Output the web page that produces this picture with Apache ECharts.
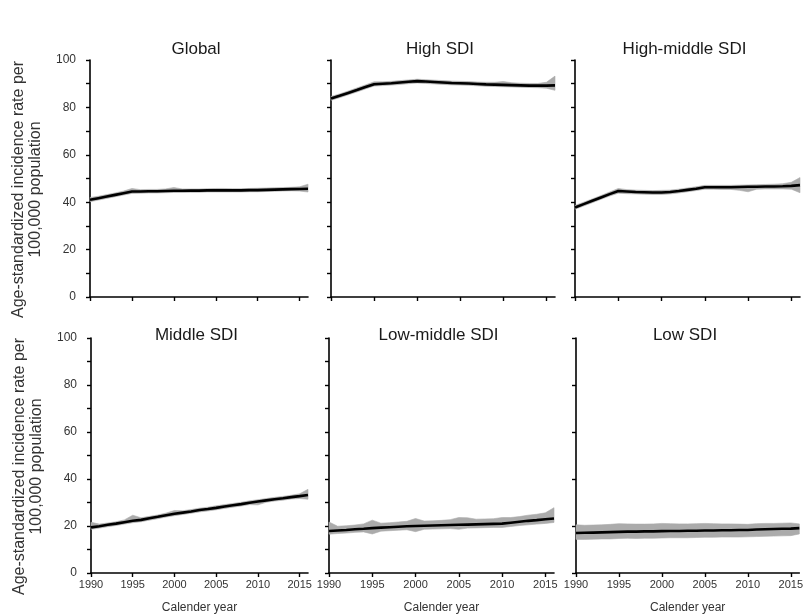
<!DOCTYPE html>
<html>
<head>
<meta charset="utf-8">
<script src="https://cdn.jsdelivr.net/npm/echarts@6/dist/echarts.min.js"></script>
<style>
  html, body { margin: 0; padding: 0; background: #fff; }
  #chart { width: 806px; height: 615px; }
</style>
</head>
<body>
<div id="chart"></div>
<script>
// Calendar years shown on every panel
const years = [1990, 1991, 1992, 1993, 1994, 1995, 1996, 1997, 1998, 1999,
               2000, 2001, 2002, 2003, 2004, 2005, 2006, 2007, 2008, 2009,
               2010, 2011, 2012, 2013, 2014, 2015, 2016];
const xTicks = [1990, 1995, 2000, 2005, 2010, 2015];

// Panel titles
const regions = ['Global', 'High SDI', 'High-middle SDI', 'Middle SDI', 'Low-middle SDI', 'Low SDI'];

// Age-standardized incidence rate (mean) and 95% UI bounds per region
const globalMean  = [41.0, 41.7, 42.4, 43.1, 43.8, 44.5, 44.5, 44.6, 44.6, 44.7, 44.8, 44.8, 44.9, 44.9, 45.0, 45.0, 45.0, 45.0, 45.0, 45.1, 45.1, 45.2, 45.3, 45.4, 45.5, 45.6, 45.7];
const globalUpper = [42.0, 42.5, 43.2, 43.9, 44.7, 45.8, 45.3, 45.4, 45.4, 45.6, 46.2, 45.6, 45.6, 45.6, 45.7, 45.8, 45.8, 45.7, 45.7, 45.8, 45.9, 46.0, 46.1, 46.2, 46.3, 46.5, 47.6];
const globalLower = [40.2, 40.9, 41.6, 42.3, 43.0, 43.7, 43.8, 43.9, 43.9, 44.0, 44.1, 44.1, 44.2, 44.2, 44.3, 44.3, 44.3, 44.3, 44.3, 44.4, 44.4, 44.5, 44.6, 44.7, 44.8, 44.7, 44.3];

const highMean  = [83.8, 84.9, 86.1, 87.3, 88.6, 89.8, 90.0, 90.2, 90.5, 90.8, 91.1, 90.9, 90.7, 90.5, 90.3, 90.2, 90.1, 89.9, 89.7, 89.6, 89.5, 89.4, 89.3, 89.2, 89.2, 89.2, 89.3];
const highUpper = [84.6, 85.7, 86.9, 88.2, 89.5, 90.8, 90.8, 91.0, 91.3, 91.6, 91.9, 91.7, 91.5, 91.3, 91.1, 91.0, 90.9, 90.7, 90.6, 90.6, 90.9, 90.4, 90.2, 90.1, 90.1, 90.6, 93.2];
const highLower = [83.0, 84.1, 85.3, 86.5, 87.8, 89.0, 89.2, 89.4, 89.7, 90.0, 90.3, 90.1, 89.9, 89.7, 89.5, 89.4, 89.3, 89.1, 88.9, 88.8, 88.7, 88.6, 88.5, 88.4, 88.3, 88.1, 87.2];

const highMidMean  = [37.8, 39.2, 40.6, 42.0, 43.4, 44.7, 44.5, 44.3, 44.2, 44.1, 44.1, 44.3, 44.7, 45.2, 45.7, 46.3, 46.3, 46.3, 46.3, 46.4, 46.5, 46.5, 46.6, 46.6, 46.7, 46.9, 47.2];
const highMidUpper = [38.6, 40.0, 41.4, 42.8, 44.3, 45.8, 45.3, 45.1, 45.0, 44.9, 45.0, 45.1, 45.5, 46.0, 46.5, 47.1, 47.1, 47.1, 47.1, 47.2, 47.3, 47.4, 47.5, 47.6, 47.8, 48.4, 50.4];
const highMidLower = [37.0, 38.4, 39.8, 41.2, 42.6, 43.8, 43.6, 43.5, 43.4, 43.3, 43.3, 43.5, 43.9, 44.4, 44.9, 45.5, 45.5, 45.4, 45.4, 45.0, 44.4, 45.5, 45.6, 45.6, 45.6, 45.5, 44.0];

const middleMean  = [19.4, 19.9, 20.5, 21.0, 21.6, 22.2, 22.6, 23.3, 23.9, 24.6, 25.2, 25.7, 26.2, 26.8, 27.2, 27.7, 28.3, 28.8, 29.3, 29.9, 30.4, 30.9, 31.4, 31.8, 32.3, 32.7, 33.2];
const middleUpper = [21.6, 20.8, 21.3, 21.8, 22.6, 24.6, 23.5, 24.1, 24.7, 25.5, 26.6, 26.5, 27.0, 27.6, 28.0, 28.6, 29.1, 29.6, 30.1, 30.7, 31.2, 31.7, 32.2, 32.6, 33.1, 33.7, 35.6];
const middleLower = [18.6, 19.1, 19.7, 20.2, 20.8, 21.4, 21.8, 22.5, 23.1, 23.8, 24.4, 24.9, 25.4, 26.0, 26.4, 26.9, 27.5, 28.0, 28.5, 29.1, 29.0, 30.1, 30.6, 31.0, 31.5, 31.7, 31.4];

const lowMidMean  = [17.9, 18.1, 18.3, 18.6, 18.8, 19.1, 19.3, 19.5, 19.7, 19.9, 20.0, 20.1, 20.2, 20.3, 20.4, 20.5, 20.6, 20.7, 20.8, 20.9, 21.0, 21.4, 21.8, 22.2, 22.5, 22.9, 23.2];
const lowMidUpper = [21.7, 19.9, 20.1, 20.4, 20.9, 22.5, 21.2, 21.4, 21.7, 22.0, 23.2, 22.1, 22.2, 22.4, 22.7, 23.6, 23.5, 22.9, 23.0, 23.1, 23.6, 23.6, 24.0, 24.6, 25.0, 25.6, 27.8];
const lowMidLower = [16.5, 16.8, 17.0, 17.3, 17.5, 16.6, 17.8, 18.0, 18.2, 18.4, 17.6, 18.6, 18.7, 18.8, 18.9, 18.6, 19.1, 19.2, 19.3, 19.4, 19.4, 19.8, 20.2, 20.5, 20.8, 21.1, 21.5];

const lowMean  = [17.0, 17.1, 17.2, 17.3, 17.4, 17.5, 17.6, 17.6, 17.7, 17.7, 17.8, 17.9, 17.9, 18.0, 18.0, 18.1, 18.1, 18.2, 18.2, 18.3, 18.3, 18.5, 18.6, 18.7, 18.8, 18.9, 19.1];
const lowUpper = [20.5, 20.3, 20.4, 20.5, 20.7, 21.0, 20.9, 20.8, 20.8, 20.9, 21.1, 21.0, 20.9, 20.9, 21.0, 21.1, 21.0, 20.9, 20.9, 20.8, 20.7, 21.0, 21.1, 21.1, 21.2, 21.3, 20.9];
const lowLower = [14.3, 14.3, 14.4, 14.5, 14.5, 14.7, 14.8, 14.7, 14.8, 14.8, 14.9, 15.0, 15.0, 15.0, 15.1, 15.2, 15.2, 15.3, 15.3, 15.3, 15.4, 15.5, 15.6, 15.7, 15.8, 15.9, 16.6];

const panelData = [
  { mean: globalMean, upper: globalUpper, lower: globalLower },
  { mean: highMean, upper: highUpper, lower: highLower },
  { mean: highMidMean, upper: highMidUpper, lower: highMidLower },
  { mean: middleMean, upper: middleUpper, lower: middleLower },
  { mean: lowMidMean, upper: lowMidUpper, lower: lowMidLower },
  { mean: lowMean, upper: lowUpper, lower: lowLower }
];

// Layout of the 2 x 3 grid of panels
const FONT = '"Liberation Sans", Arial, sans-serif';
const colLefts = [[90, 331, 575], [91, 329, 576]];
const colWidths = [[218, 224, 225], [217, 225, 224]];
const rowTops = [60, 338];
const rowHeights = [237, 236];
const yName = 'Age-standardized incidence rate per\n100,000 population';

// Uncertainty band drawn as one polygon: upper bound forward, lower bound back
function bandRenderer(d) {
  return function (params, api) {
    if (params.dataIndex !== 0) return null;
    const pts = [];
    for (let k = 0; k < years.length; k++) pts.push(api.coord([years[k], d.upper[k]]));
    for (let k = years.length - 1; k >= 0; k--) pts.push(api.coord([years[k], d.lower[k]]));
    return {
      type: 'polygon',
      shape: { points: pts },
      style: { fill: '#ababab', stroke: '#ababab', lineWidth: 0.6 }
    };
  };
}

const grids = [], xAxes = [], yAxes = [], series = [], titles = [];

regions.forEach((name, i) => {
  const row = Math.floor(i / 3), col = i % 3;
  const left = colLefts[row][col], width = colWidths[row][col];
  grids.push({ left: left, top: rowTops[row], width: width, height: rowHeights[row] });

  titles.push({
    text: name,
    left: left + width / 2 - 8,
    top: row === 0 ? 36 : 322,
    textAlign: 'center',
    textStyle: { fontFamily: FONT, fontSize: 17, fontWeight: 'normal', color: '#1a1a1a' }
  });

  xAxes.push({
    type: 'value', gridIndex: i, min: 1990, max: 2016, interval: 5,
    splitLine: { show: false },
    axisLine: { lineStyle: { color: '#000', width: 1.6 } },
    axisTick: { show: true, length: 4, customValues: xTicks, lineStyle: { color: '#000', width: 1.4 } },
    axisLabel: {
      show: row === 1, customValues: xTicks, margin: 6,
      fontFamily: FONT, fontSize: 11, color: '#333',
      formatter: v => String(v)
    },
    name: row === 1 ? 'Calender year' : '',
    nameLocation: 'middle', nameGap: 29,
    nameTextStyle: { fontFamily: FONT, fontSize: 12, color: '#333' }
  });

  yAxes.push({
    type: 'value', gridIndex: i, min: 0, max: 100, interval: 20,
    splitLine: { show: false },
    axisLine: { show: true, lineStyle: { color: '#000', width: 1.6 } },
    axisTick: { show: true, length: 4, lineStyle: { color: '#000', width: 1.4 } },
    minorTick: { show: i !== 5, splitNumber: 2, length: 4, lineStyle: { color: '#000', width: 1.4 } },
    axisLabel: { show: col === 0, margin: 14, fontFamily: FONT, fontSize: 12, color: '#333' },
    name: col === 0 ? yName : '',
    nameLocation: 'middle', nameRotate: 90, nameGap: 46,
    nameTextStyle: {
      fontFamily: FONT, fontSize: 16, color: '#333', lineHeight: 17, align: 'center',
      padding: [0, 22, 0, 0]
    }
  });

  const d = panelData[i];
  series.push({
    type: 'custom', coordinateSystem: 'cartesian2d', xAxisIndex: i, yAxisIndex: i,
    data: years.map((y, k) => [y, d.lower[k], d.upper[k]]),
    encode: { x: 0, y: [1, 2] },
    renderItem: bandRenderer(d), silent: true, z: 2
  });
  series.push({
    type: 'line', xAxisIndex: i, yAxisIndex: i,
    data: years.map((y, k) => [y, d.mean[k]]),
    symbol: 'none', lineStyle: { color: '#000', width: 2.6 }, z: 5
  });
});

const chart = echarts.init(document.getElementById('chart'), null, { renderer: 'canvas' });
chart.setOption({
  animation: false,
  backgroundColor: '#fff',
  title: titles,
  grid: grids,
  xAxis: xAxes,
  yAxis: yAxes,
  series: series
});
</script>
</body>
</html>
